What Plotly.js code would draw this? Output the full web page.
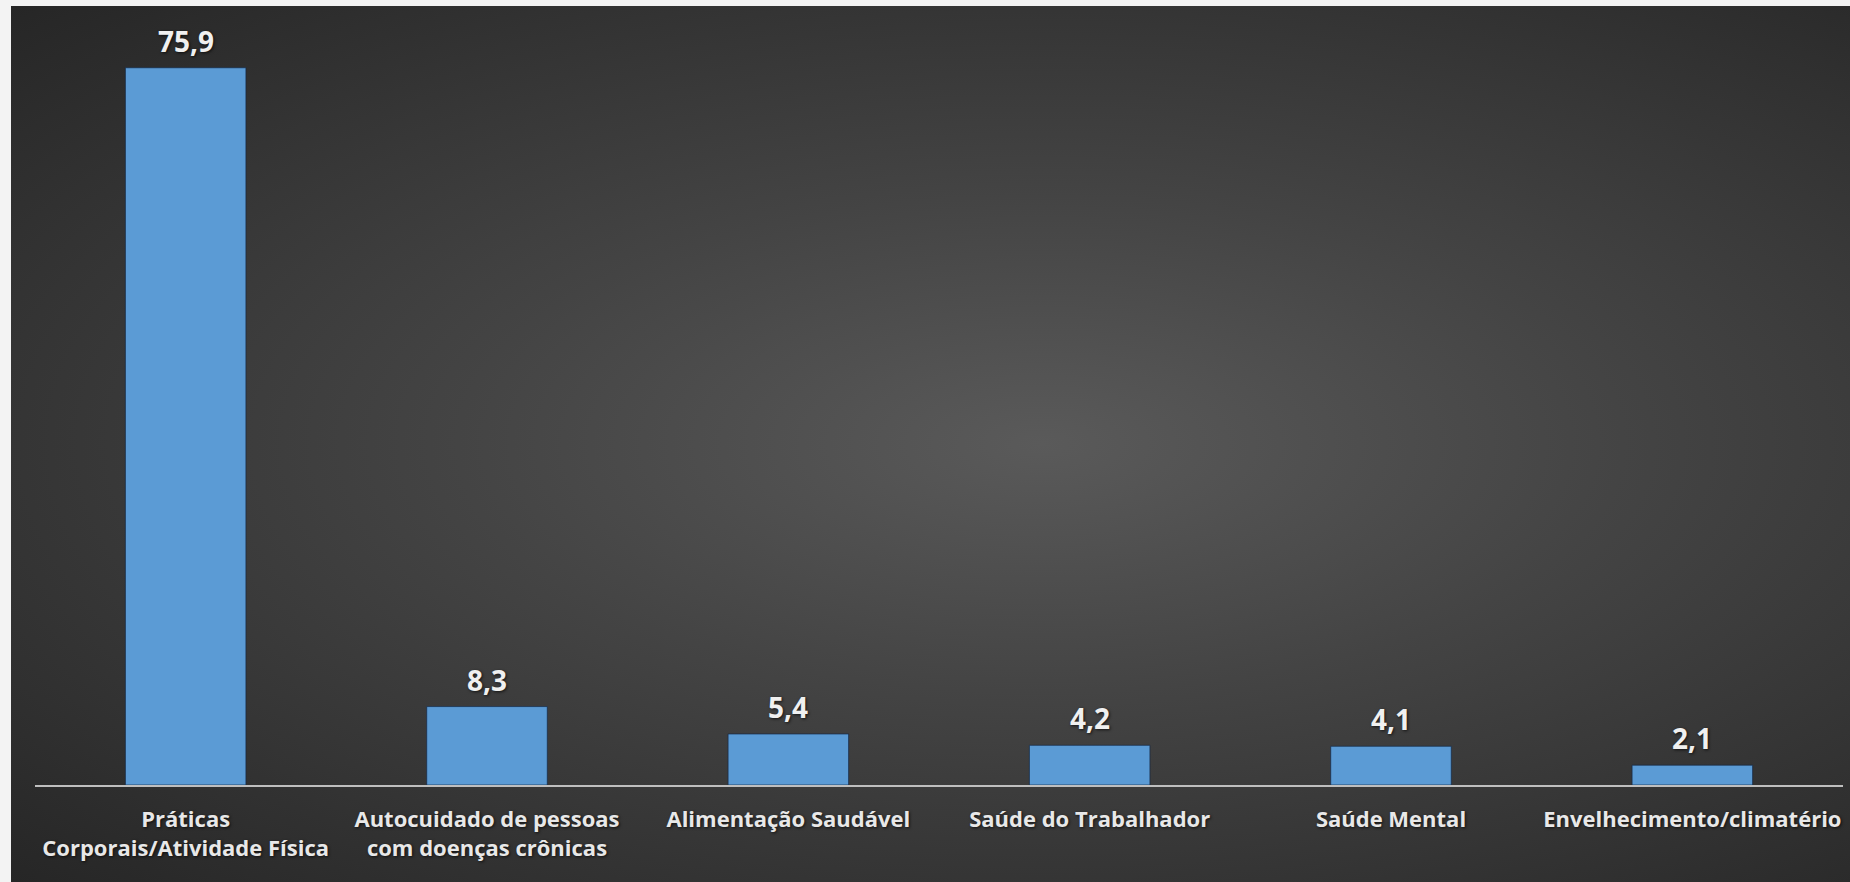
<!DOCTYPE html>
<html>
<head>
<meta charset="utf-8">
<script src="https://cdn.plot.ly/plotly-3.0.1.min.js"></script>
<style>
  html, body { margin: 0; padding: 0; width: 1850px; height: 882px; overflow: hidden; background: #f3f3f3; }
  #bg { position: absolute; left: 11px; top: 6px; width: 1839px; height: 876px;
        background: radial-gradient(ellipse farthest-corner at 56% 50%, #5a5a5a 0%, #444444 40%, #262626 100%); }
  #chart { position: absolute; left: 0; top: 0; width: 1850px; height: 882px; }
</style>
</head>
<body>
<div id="bg"></div>
<div id="chart"></div>
<script>
const categories = [
  "Práticas<br>Corporais/Atividade Física",
  "Autocuidado de pessoas<br>com doenças crônicas",
  "Alimentação Saudável",
  "Saúde do Trabalhador",
  "Saúde Mental",
  "Envelhecimento/climatério"
];
const values = [75.9, 8.3, 5.4, 4.2, 4.1, 2.1];

const fmt = v => v.toFixed(1).replace('.', ',');

const trace = {
  type: 'bar',
  x: categories,
  y: values,
  marker: { color: '#5b9bd5', line: { color: 'rgba(20,40,70,0.7)', width: 1 } },
  hoverinfo: 'x+y'
};

const annotations = categories.map((c, i) => ({
  x: c, y: values[i], xref: 'x', yref: 'y',
  text: fmt(values[i]),
  showarrow: false, yanchor: 'bottom', yshift: 6,
  font: { family: 'Open Sans, sans-serif', size: 28, weight: 700, color: '#f0f0f0',
          shadow: '1px 1px 3px rgba(0,0,0,0.7)' }
}));

const layout = {
  width: 1850, height: 882,
  margin: { l: 35, r: 7, t: 29, b: 97 },
  paper_bgcolor: 'rgba(0,0,0,0)',
  plot_bgcolor: 'rgba(0,0,0,0)',
  bargap: 0.6,
  showlegend: false,
  xaxis: {
    type: 'category',
    showline: true, linecolor: '#bfbfbf', linewidth: 2,
    showgrid: false, zeroline: false, ticks: '',
    ticklabelstandoff: 14,
    tickfont: { family: 'Open Sans, sans-serif', size: 22, weight: 700, color: '#e8e8e8',
                shadow: '1px 1px 3px rgba(0,0,0,0.7)' }
  },
  yaxis: {
    range: [0, 80], visible: false, showgrid: false, zeroline: false, fixedrange: true
  },
  annotations: annotations
};

Plotly.newPlot('chart', [trace], layout, { displayModeBar: false, staticPlot: true });
</script>
</body>
</html>
